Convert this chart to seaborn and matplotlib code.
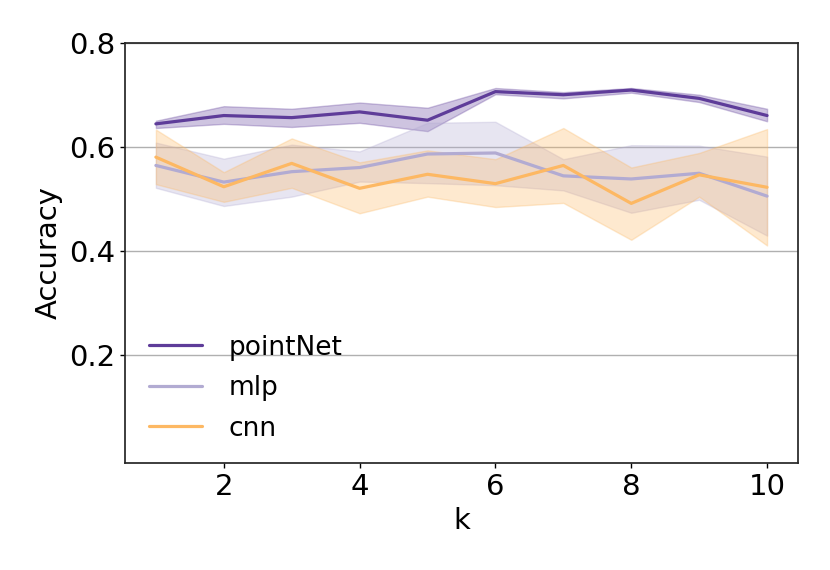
import numpy as np
import pandas as pd
import matplotlib
matplotlib.use('Agg')
import matplotlib.pyplot as plt
import seaborn as sns

# ── data ───────────────────────────────────────────────────
k_values = [1, 2, 3, 4, 5, 6, 7, 8, 9, 10]

pointnet_mid = [0.644, 0.660, 0.656, 0.667, 0.651, 0.706, 0.700, 0.709, 0.693, 0.660]
pointnet_low = [0.636, 0.644, 0.638, 0.646, 0.630, 0.701, 0.693, 0.704, 0.686, 0.649]
pointnet_high = [0.650, 0.678, 0.673, 0.685, 0.675, 0.713, 0.705, 0.713, 0.700, 0.673]

mlp_mid = [0.564, 0.532, 0.552, 0.560, 0.586, 0.588, 0.544, 0.538, 0.549, 0.505]
mlp_low = [0.521, 0.486, 0.504, 0.533, 0.530, 0.526, 0.516, 0.473, 0.498, 0.429]
mlp_high = [0.608, 0.577, 0.604, 0.591, 0.646, 0.648, 0.576, 0.603, 0.602, 0.581]

cnn_mid = [0.580, 0.523, 0.568, 0.520, 0.547, 0.529, 0.564, 0.491, 0.546, 0.522]
cnn_low = [0.528, 0.494, 0.521, 0.472, 0.504, 0.484, 0.492, 0.421, 0.504, 0.410]
cnn_high = [0.633, 0.551, 0.616, 0.570, 0.593, 0.576, 0.636, 0.560, 0.588, 0.634]

models = ['pointNet', 'mlp', 'cnn']
colors = ['#5e3c99', '#b2abd2', '#fdb863']

# long table: low / mid / high per k, median gives the line, full range the band
rows = []
series = {
    'pointNet': (pointnet_low, pointnet_mid, pointnet_high),
    'mlp': (mlp_low, mlp_mid, mlp_high),
    'cnn': (cnn_low, cnn_mid, cnn_high),
}
for name in models:
    for vals in series[name]:
        for k, v in zip(k_values, vals):
            rows.append({'k': k, 'Accuracy': v, 'model': name})
df = pd.DataFrame(rows)

# ── plot ───────────────────────────────────────────────────
sns.set_style("ticks")
plt.rcParams['font.family'] = ['DejaVu Sans']
plt.rcParams['text.color'] = 'black'
plt.rcParams['axes.labelcolor'] = 'black'
plt.rcParams['xtick.color'] = 'black'
plt.rcParams['ytick.color'] = 'black'

fig, ax = plt.subplots(figsize=(8.3, 5.7), dpi=100)
fig.subplots_adjust(left=0.151, right=0.961, top=0.925, bottom=0.188)

sns.lineplot(data=df, x='k', y='Accuracy', hue='model', hue_order=models,
             palette=colors, estimator='median', errorbar=('pi', 100),
             linewidth=2.3, err_kws={'alpha': 0.3, 'linewidth': 1}, ax=ax)

ax.set_ylim(-0.008, 0.8)
ax.set_yticks([0.2, 0.4, 0.6, 0.8])
ax.set_xticks([2, 4, 6, 8, 10])
ax.yaxis.grid(True, color='#b0b0b0', linewidth=1.0)
ax.set_axisbelow(True)

for s in ax.spines.values():
    s.set_linewidth(1.25)
    s.set_color('#262626')
ax.tick_params(length=3.5, width=1, labelsize=21, pad=4)
ax.set_xlabel('k', fontsize=21)
ax.set_ylabel('Accuracy', fontsize=21)

ax.legend(loc='lower left', frameon=False, fontsize=19,
          bbox_to_anchor=(0.0, -0.006), handlelength=2.0,
          handletextpad=1.0, labelspacing=0.55)

plt.savefig('out.png', dpi=100)
plt.close()
